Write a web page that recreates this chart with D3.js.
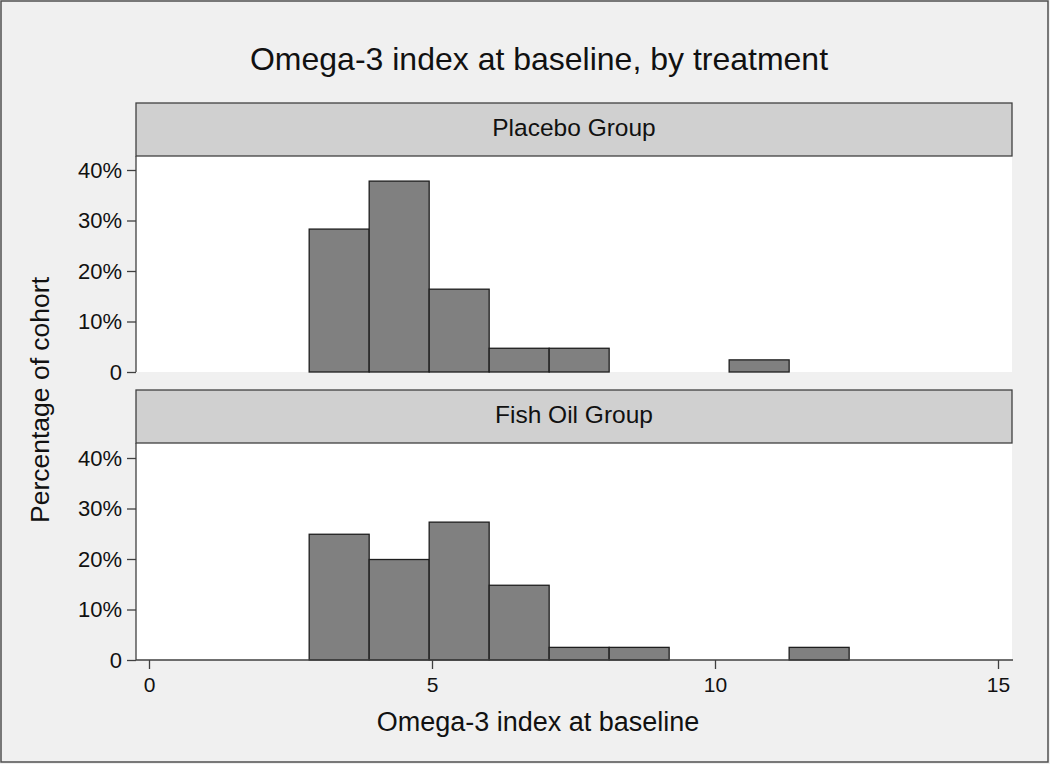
<!DOCTYPE html>
<html>
<head>
<meta charset="utf-8">
<script src="https://cdn.jsdelivr.net/npm/d3@7"></script>
<style>
  html, body { margin: 0; padding: 0; background: #f0f0f0; }
  svg { display: block; font-family: "Liberation Sans", Arial, sans-serif; }
</style>
</head>
<body>
<svg id="chart" width="1050" height="764"></svg>
<script>
// ---- data ----
const title = "Omega-3 index at baseline, by treatment";
const xTitle = "Omega-3 index at baseline";
const yTitle = "Percentage of cohort";
const groups = ["Placebo Group", "Fish Oil Group"];
const binEdges = [2.83, 3.89, 4.95, 6.01, 7.07, 8.13, 9.19, 10.25, 11.31, 12.37];
const placeboPct = [28.3, 37.8, 16.4, 4.7, 4.7, 0, 0, 2.4, 0];
const fishOilPct = [24.9, 19.9, 27.3, 14.8, 2.5, 2.5, 0, 0, 2.5];
const xTicks = [0, 5, 10, 15];
const yTicks = [0, 10, 20, 30, 40];
const yTickLabels = ["0", "10%", "20%", "30%", "40%"];

const seriesList = [placeboPct, fishOilPct];

// ---- layout ----
const W = 1050, H = 764;
const plotLeft = 136, plotRight = 1012;
const panels = [
  { stripTop: 103, stripBottom: 156, plotBottom: 372 },
  { stripTop: 390, stripBottom: 443, plotBottom: 660 }
];

const svg = d3.select("#chart");

// background + outer border
svg.append("rect").attr("x", 1).attr("y", 1).attr("width", W - 3).attr("height", H - 3)
  .attr("fill", "#f0f0f0").attr("stroke", "#505050").attr("stroke-width", 1.5);

svg.append("text").attr("x", 539).attr("y", 70).attr("text-anchor", "middle")
  .attr("font-size", 32).attr("fill", "#111").text(title);

const x = d3.scaleLinear().domain([0, 15]).range([149, 998]);

panels.forEach((p, i) => {
  const y = d3.scaleLinear().domain([0, 40]).range([p.plotBottom, p.plotBottom - 202]);
  const g = svg.append("g");

  // plot area
  g.append("rect").attr("x", plotLeft).attr("y", p.stripBottom)
    .attr("width", plotRight - plotLeft).attr("height", p.plotBottom - p.stripBottom)
    .attr("fill", "#ffffff");

  // strip
  g.append("rect").attr("x", plotLeft).attr("y", p.stripTop)
    .attr("width", plotRight - plotLeft).attr("height", p.stripBottom - p.stripTop)
    .attr("fill", "#d0d0d0").attr("stroke", "#404040").attr("stroke-width", 1.3);
  g.append("text").attr("x", (plotLeft + plotRight) / 2).attr("y", p.stripBottom - 20)
    .attr("text-anchor", "middle").attr("font-size", 24.5).attr("fill", "#111")
    .text(groups[i]);

  // bars
  const vals = seriesList[i];
  const bins = vals.map((v, k) => ({ x0: binEdges[k], x1: binEdges[k + 1], v }))
    .filter(d => d.v > 0);
  g.selectAll("rect.bar").data(bins).join("rect").attr("class", "bar")
    .attr("x", d => x(d.x0)).attr("width", d => x(d.x1) - x(d.x0))
    .attr("y", d => y(d.v)).attr("height", d => y(0) - y(d.v))
    .attr("fill", "#808080").attr("stroke", "#1e1e1e").attr("stroke-width", 1.3);

  // y axis
  const yAxis = d3.axisLeft(y).tickValues(yTicks)
    .tickFormat((d, k) => yTickLabels[k]).tickSize(9).tickPadding(5).tickSizeOuter(0);
  const ya = g.append("g").attr("transform", `translate(${plotLeft},0)`).call(yAxis);
  ya.select(".domain").remove();
  ya.append("line").attr("x1", 0).attr("x2", 0).attr("y1", p.stripBottom).attr("y2", p.plotBottom)
    .attr("stroke", "#404040").attr("stroke-width", 1.3);
  ya.selectAll(".tick line").attr("stroke", "#404040").attr("stroke-width", 1.3);
  ya.selectAll(".tick text").attr("font-size", 22).attr("fill", "#111")
    .attr("font-family", "Liberation Sans, Arial, sans-serif");

  if (i === 1) {
    const xAxis = d3.axisBottom(x).tickValues(xTicks).tickFormat(d3.format("d"))
      .tickSize(9).tickPadding(8).tickSizeOuter(0);
    const xa = g.append("g").attr("transform", `translate(0,${p.plotBottom})`).call(xAxis);
    xa.select(".domain").remove();
    xa.append("line").attr("x1", plotLeft).attr("x2", plotRight + 1).attr("y1", 0).attr("y2", 0)
      .attr("stroke", "#404040").attr("stroke-width", 1.3);
    xa.selectAll(".tick line").attr("stroke", "#404040").attr("stroke-width", 1.3);
    xa.selectAll(".tick text").attr("font-size", 21).attr("fill", "#111")
      .attr("font-family", "Liberation Sans, Arial, sans-serif");
  }
});

svg.append("text").attr("x", 538).attr("y", 731).attr("text-anchor", "middle")
  .attr("font-size", 27).attr("fill", "#111").text(xTitle);

svg.append("text").attr("transform", "translate(49,400) rotate(-90)")
  .attr("text-anchor", "middle").attr("font-size", 26.5).attr("fill", "#111").text(yTitle);
</script>
</body>
</html>
